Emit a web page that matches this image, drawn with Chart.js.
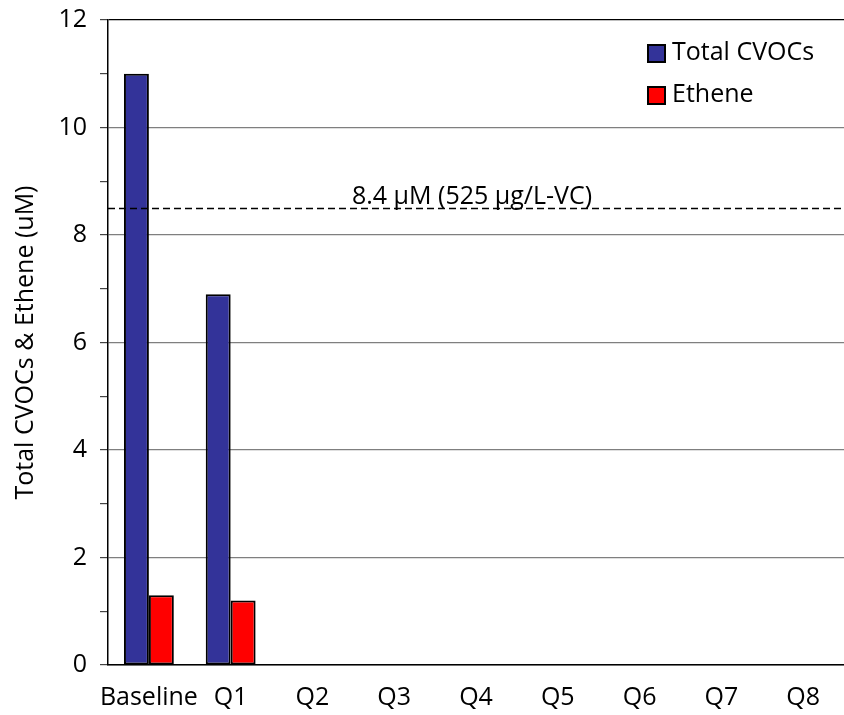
<!DOCTYPE html>
<html>
<head>
<meta charset="utf-8">
<script src="https://cdn.jsdelivr.net/npm/chart.js@4.4.1/dist/chart.umd.min.js"></script>
<style>
  html,body{margin:0;padding:0;background:#fff;}
  #wrap{width:844px;height:715px;}
</style>
</head>
<body>
<div id="wrap"><canvas id="c" width="844" height="715"></canvas></div>
<script>
/* data */
const categories = ['Baseline','Q1','Q2','Q3','Q4','Q5','Q6','Q7','Q8'];
const totalCVOCs = [11.0, 6.9, null, null, null, null, null, null, null];
const ethene     = [1.3, 1.2, null, null, null, null, null, null, null];
const refLevel = 8.5;
const refLabel = '8.4 µM (525 µg/L-VC)';
const yTicks = [0,1,2,3,4,5,6,7,8,9,10,11,12];   // odd ones are minor marks only

const FONT = '"Open Sans", "DejaVu Sans", sans-serif';
const isMajor = v => v % 2 === 0;

/* dashed reference line + label */
const refLinePlugin = {
  id:'refLine',
  afterDatasetsDraw(chart){
    const {ctx, chartArea:a, scales:{y}} = chart;
    const py = Math.round(y.getPixelForValue(refLevel)) + 0.5;
    ctx.save();
    ctx.strokeStyle = '#000'; ctx.lineWidth = 1.5;
    ctx.setLineDash([7,4]);
    ctx.beginPath(); ctx.moveTo(a.left, py); ctx.lineTo(a.right, py); ctx.stroke();
    ctx.setLineDash([]);
    ctx.fillStyle = '#000';
    ctx.font = '25px ' + FONT;
    ctx.textAlign = 'center'; ctx.textBaseline = 'alphabetic';
    ctx.fillText(refLabel, 472, py - 5);
    ctx.restore();
  }
};

/* legend in top-right of plot */
const boxLegendPlugin = {
  id:'boxLegend',
  afterDraw(chart){
    const {ctx, chartArea:a} = chart;
    ctx.save();
    ctx.font = '25px ' + FONT;
    ctx.textBaseline = 'middle';
    chart.data.datasets.forEach((ds,i)=>{
      const bx = a.right - 196, by = a.top + 25 + i*42;
      ctx.fillStyle = ds.backgroundColor;
      ctx.fillRect(bx, by, 17, 17);
      ctx.strokeStyle = '#000'; ctx.lineWidth = 2;
      ctx.strokeRect(bx, by, 17, 17);
      ctx.fillStyle = '#000';
      ctx.textAlign = 'left';
      ctx.fillText(ds.label, bx + 24, by + 8);
    });
    ctx.restore();
  }
};

new Chart(document.getElementById('c').getContext('2d'), {
  type:'bar',
  data:{
    labels: categories,
    datasets:[
      {label:'Total CVOCs', data: totalCVOCs, backgroundColor:'#333399', borderColor:'#000', borderWidth:2, borderSkipped:false},
      {label:'Ethene', data: ethene, backgroundColor:'#ff0000', borderColor:'#000', borderWidth:2, borderSkipped:false}
    ]
  },
  options:{
    responsive:false,
    animation:false,
    layout:{padding:{top:20,right:0,left:0,bottom:0}},
    datasets:{bar:{categoryPercentage:0.61, barPercentage:1}},
    plugins:{legend:{display:false}, tooltip:{enabled:false}},
    scales:{
      x:{
        afterFit(s){ s.height = 50; s.paddingLeft = 0; s.paddingRight = 0; },
        grid:{display:false, drawTicks:false},
        border:{color:'#000', width:1.5},
        ticks:{color:'#000', font:{family:FONT, size:25}, padding:18, maxRotation:0, autoSkip:false}
      },
      y:{
        min:0, max:12,
        afterFit(s){ s.width = 108; s.paddingTop = 0; s.paddingBottom = 0; },
        afterBuildTicks(s){ s.ticks = yTicks.map(v=>({value:v})); },
        grid:{
          color: c => !c.tick ? '#7f7f7f' : (c.tick.value === 12 ? '#000' : (isMajor(c.tick.value) ? '#7f7f7f' : 'rgba(0,0,0,0)')),
          lineWidth: 1.2,
          tickLength: 8,
          tickColor:'#444'
        },
        border:{color:'#000', width:1.5},
        ticks:{color:'#000', font:{family:FONT, size:25}, padding:13, autoSkip:false,
               callback: v => isMajor(v) ? String(v) : ''},
        title:{display:true, text:'Total CVOCs & Ethene (uM)', color:'#000', font:{family:FONT, size:25}, padding:{top:11, bottom:0}}
      }
    }
  },
  plugins:[refLinePlugin, boxLegendPlugin]
});
</script>
</body>
</html>
